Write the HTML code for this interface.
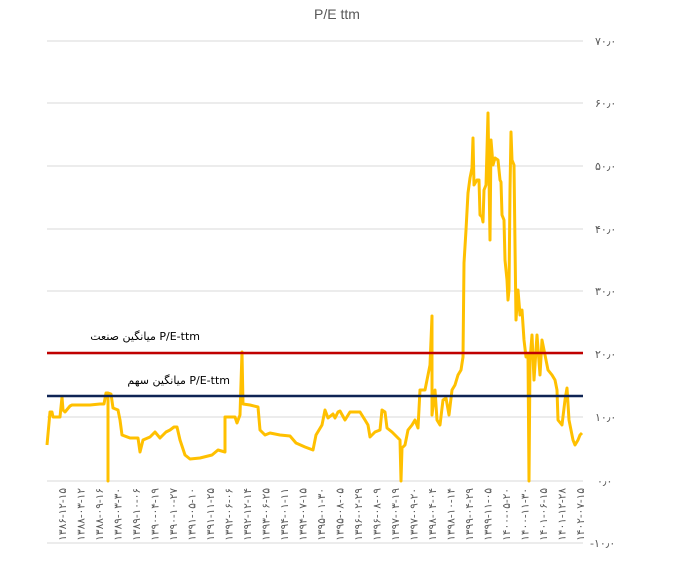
<!DOCTYPE html>
<html><head><meta charset="utf-8"><style>
body{margin:0;background:#fff;}
svg{display:block;font-family:"Liberation Sans","DejaVu Sans",sans-serif;}
</style></head><body>
<svg width="675" height="574" viewBox="0 0 675 574" xmlns="http://www.w3.org/2000/svg">
<text x="337" y="19" font-size="14" fill="#595959" text-anchor="middle">P/E ttm</text>
<g stroke="#d9d9d9" stroke-width="1">
<line x1="47" x2="583" y1="41" y2="41"/><line x1="47" x2="583" y1="103" y2="103"/>
<line x1="47" x2="583" y1="166" y2="166"/><line x1="47" x2="583" y1="229" y2="229"/>
<line x1="47" x2="583" y1="291" y2="291"/><line x1="47" x2="583" y1="354" y2="354"/>
<line x1="47" x2="583" y1="417" y2="417"/><line x1="47" x2="583" y1="481" y2="481"/>
<line x1="47" x2="583" y1="543" y2="543"/>
</g>
<g font-size="11" fill="#595959" font-family="'DejaVu Sans',sans-serif">
<text x="595" y="45">۷۰٫۰</text><text x="595" y="107">۶۰٫۰</text><text x="595" y="170">۵۰٫۰</text>
<text x="595" y="233">۴۰٫۰</text><text x="595" y="295">۳۰٫۰</text><text x="595" y="358">۲۰٫۰</text>
<text x="595" y="421">۱۰٫۰</text><text x="597" y="485">۰٫۰</text><text x="590" y="547">-۱۰٫۰</text>
</g>
<polyline fill="none" stroke="#ffc000" stroke-width="3" stroke-linejoin="round" points="
47,445 50,412 52,412 53,417 60,417 62,397 63,410 65,412 70,406 72,405 80,405 90,405 100,404 104,404 106,393 108,393 108,481 108,393 111,394 113,408 118,410 120,420 122,435 130,438 138,438 140,452 143,440 150,437 155,432 160,438 166,432 170,430 174,427 177,427 180,440 185,455 190,459 200,458 212,455 218,450 225,452 225,417 235,417 237,423 240,415 242,352 243,404 250,405 258,407 260,430 265,435 270,433 280,435 290,436 296,443 305,447 313,450 316,435 322,425 325,410 328,418 333,414 335,418 338,412 340,411 345,420 350,412 360,412 365,420 368,425 370,437 375,432 380,430 382,410 385,412 387,428 392,432 396,436 400,440 401,481 402,448 405,445 408,430 412,425 415,420 418,428 420,390 425,390 427,380 428,375 430,365 432,316 432,415 435,390 437,420 440,425 443,400 446,398 449,415 452,390 455,385 458,375 461,370 463,357 464,263 466,230 468,193 470,178 472,168 473,138 474,185 477,180 479,180 480,215 482,217 483,222 484,190 486,185 487,150 488,113 490,240 491,140 493,165 495,158 498,160 500,180 501,182 502,215 504,220 505,260 507,280 508,300 509,290 510,190 511,132 512,160 514,165 515,245 516,320 518,290 520,315 522,310 524,340 526,357 528,355 529,481 530,360 532,335 534,380 537,335 540,375 542,340 545,355 548,370 552,375 555,380 557,390 558,420 562,425 565,400 567,388 569,420 571,430 573,440 575,445 578,440 580,435 582,433"/>
<line x1="47" x2="583" y1="353" y2="353" stroke="#c00000" stroke-width="2.5"/>
<line x1="47" x2="583" y1="396" y2="396" stroke="#0f2454" stroke-width="2.5"/>
<text x="200" y="340" font-size="11" fill="#000" text-anchor="end" font-family="'DejaVu Sans',sans-serif">میانگین صنعت P/E-ttm</text>
<text x="230" y="384" font-size="11" fill="#000" text-anchor="end" font-family="'DejaVu Sans',sans-serif">میانگین سهم P/E-ttm</text>
<g font-size="10.5" fill="#595959" font-family="'DejaVu Sans',sans-serif" text-anchor="end">
<text transform="translate(66,488) rotate(-90)">۱۳۸۶-۱۲-۱۵</text>
<text transform="translate(84.5,488) rotate(-90)">۱۳۸۸-۰۳-۱۲</text>
<text transform="translate(103,488) rotate(-90)">۱۳۸۸-۰۹-۱۶</text>
<text transform="translate(121.5,488) rotate(-90)">۱۳۸۹-۰۳-۳۰</text>
<text transform="translate(140,488) rotate(-90)">۱۳۸۹-۱۰-۰۶</text>
<text transform="translate(158.5,488) rotate(-90)">۱۳۹۰-۰۴-۱۹</text>
<text transform="translate(177,488) rotate(-90)">۱۳۹۰-۱۰-۲۷</text>
<text transform="translate(195.5,488) rotate(-90)">۱۳۹۱-۰۵-۱۰</text>
<text transform="translate(214,488) rotate(-90)">۱۳۹۱-۱۱-۲۵</text>
<text transform="translate(232.5,488) rotate(-90)">۱۳۹۲-۰۶-۰۶</text>
<text transform="translate(251,488) rotate(-90)">۱۳۹۲-۱۲-۱۴</text>
<text transform="translate(269.5,488) rotate(-90)">۱۳۹۳-۰۶-۲۵</text>
<text transform="translate(288,488) rotate(-90)">۱۳۹۴-۰۱-۱۱</text>
<text transform="translate(306.5,488) rotate(-90)">۱۳۹۴-۰۷-۱۵</text>
<text transform="translate(325,488) rotate(-90)">۱۳۹۵-۰۱-۳۰</text>
<text transform="translate(343.5,488) rotate(-90)">۱۳۹۵-۰۸-۰۵</text>
<text transform="translate(362,488) rotate(-90)">۱۳۹۶-۰۲-۲۹</text>
<text transform="translate(380.5,488) rotate(-90)">۱۳۹۶-۰۸-۰۹</text>
<text transform="translate(399,488) rotate(-90)">۱۳۹۷-۰۳-۱۹</text>
<text transform="translate(417.5,488) rotate(-90)">۱۳۹۷-۰۹-۲۰</text>
<text transform="translate(436,488) rotate(-90)">۱۳۹۸-۰۴-۰۴</text>
<text transform="translate(454.5,488) rotate(-90)">۱۳۹۸-۱۰-۱۴</text>
<text transform="translate(473,488) rotate(-90)">۱۳۹۹-۰۴-۲۹</text>
<text transform="translate(491.5,488) rotate(-90)">۱۳۹۹-۱۱-۰۵</text>
<text transform="translate(510,488) rotate(-90)">۱۴۰۰-۰۵-۲۰</text>
<text transform="translate(528.5,488) rotate(-90)">۱۴۰۰-۱۱-۳۰</text>
<text transform="translate(547,488) rotate(-90)">۱۴۰۱-۰۶-۱۵</text>
<text transform="translate(565.5,488) rotate(-90)">۱۴۰۱-۱۲-۲۸</text>
<text transform="translate(584,488) rotate(-90)">۱۴۰۲-۰۷-۱۵</text>
</g>
</svg>
</body></html>
